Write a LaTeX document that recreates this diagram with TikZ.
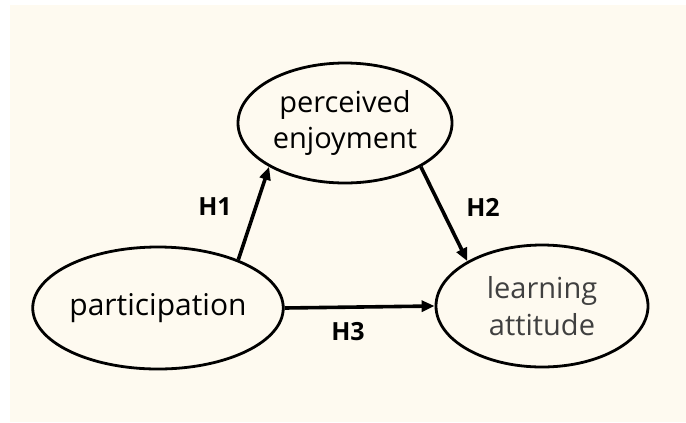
\documentclass[tikz,border=0pt]{standalone}
\usepackage{fontspec}
\setmainfont{Open Sans}
\usetikzlibrary{shapes.geometric,arrows.meta}
\definecolor{cream}{RGB}{254,250,240}
\definecolor{txtgray}{RGB}{64,64,64}
\tikzset{
  construct/.style={draw=black, line width=2.8bp, ellipse, inner sep=0pt,
    minimum width=212bp, minimum height=122bp, align=center,
    font=\fontsize{29bp}{36.7bp}\selectfont},
  path arrow/.style={line width=3.6bp, -{Triangle[length=13bp,width=11bp]}},
  hyp/.style={font=\fontsize{25bp}{30bp}\selectfont\bfseries, inner sep=0pt}
}
\begin{document}
\begin{tikzpicture}[x=1bp,y=-1bp]
\useasboundingbox (0,0) rectangle (686,422);
\fill[white] (0,0) rectangle (686,422);
\fill[cream] (10,5) rectangle (686,422);
\node[construct, minimum width=214bp, minimum height=120bp] (perc) at (345,123) {perceived\\enjoyment};
\node[construct, font=\fontsize{30bp}{36bp}\selectfont] (part) at (158,308) {participation};
\node[construct, text=txtgray] (learn) at (542,306) {learning\\attitude};
\draw[path arrow] (part.31) -- (perc.210.5);
\draw[path arrow] (perc.330.8) -- (learn.149.6);
\draw[path arrow] (part.east) -- (learn.west);
\node[hyp] (h1) at (215,207) {H1};
\node[hyp] (h2) at (483,207) {H2};
\node[hyp] (h3) at (348,332) {H3};
\end{tikzpicture}
\end{document}
